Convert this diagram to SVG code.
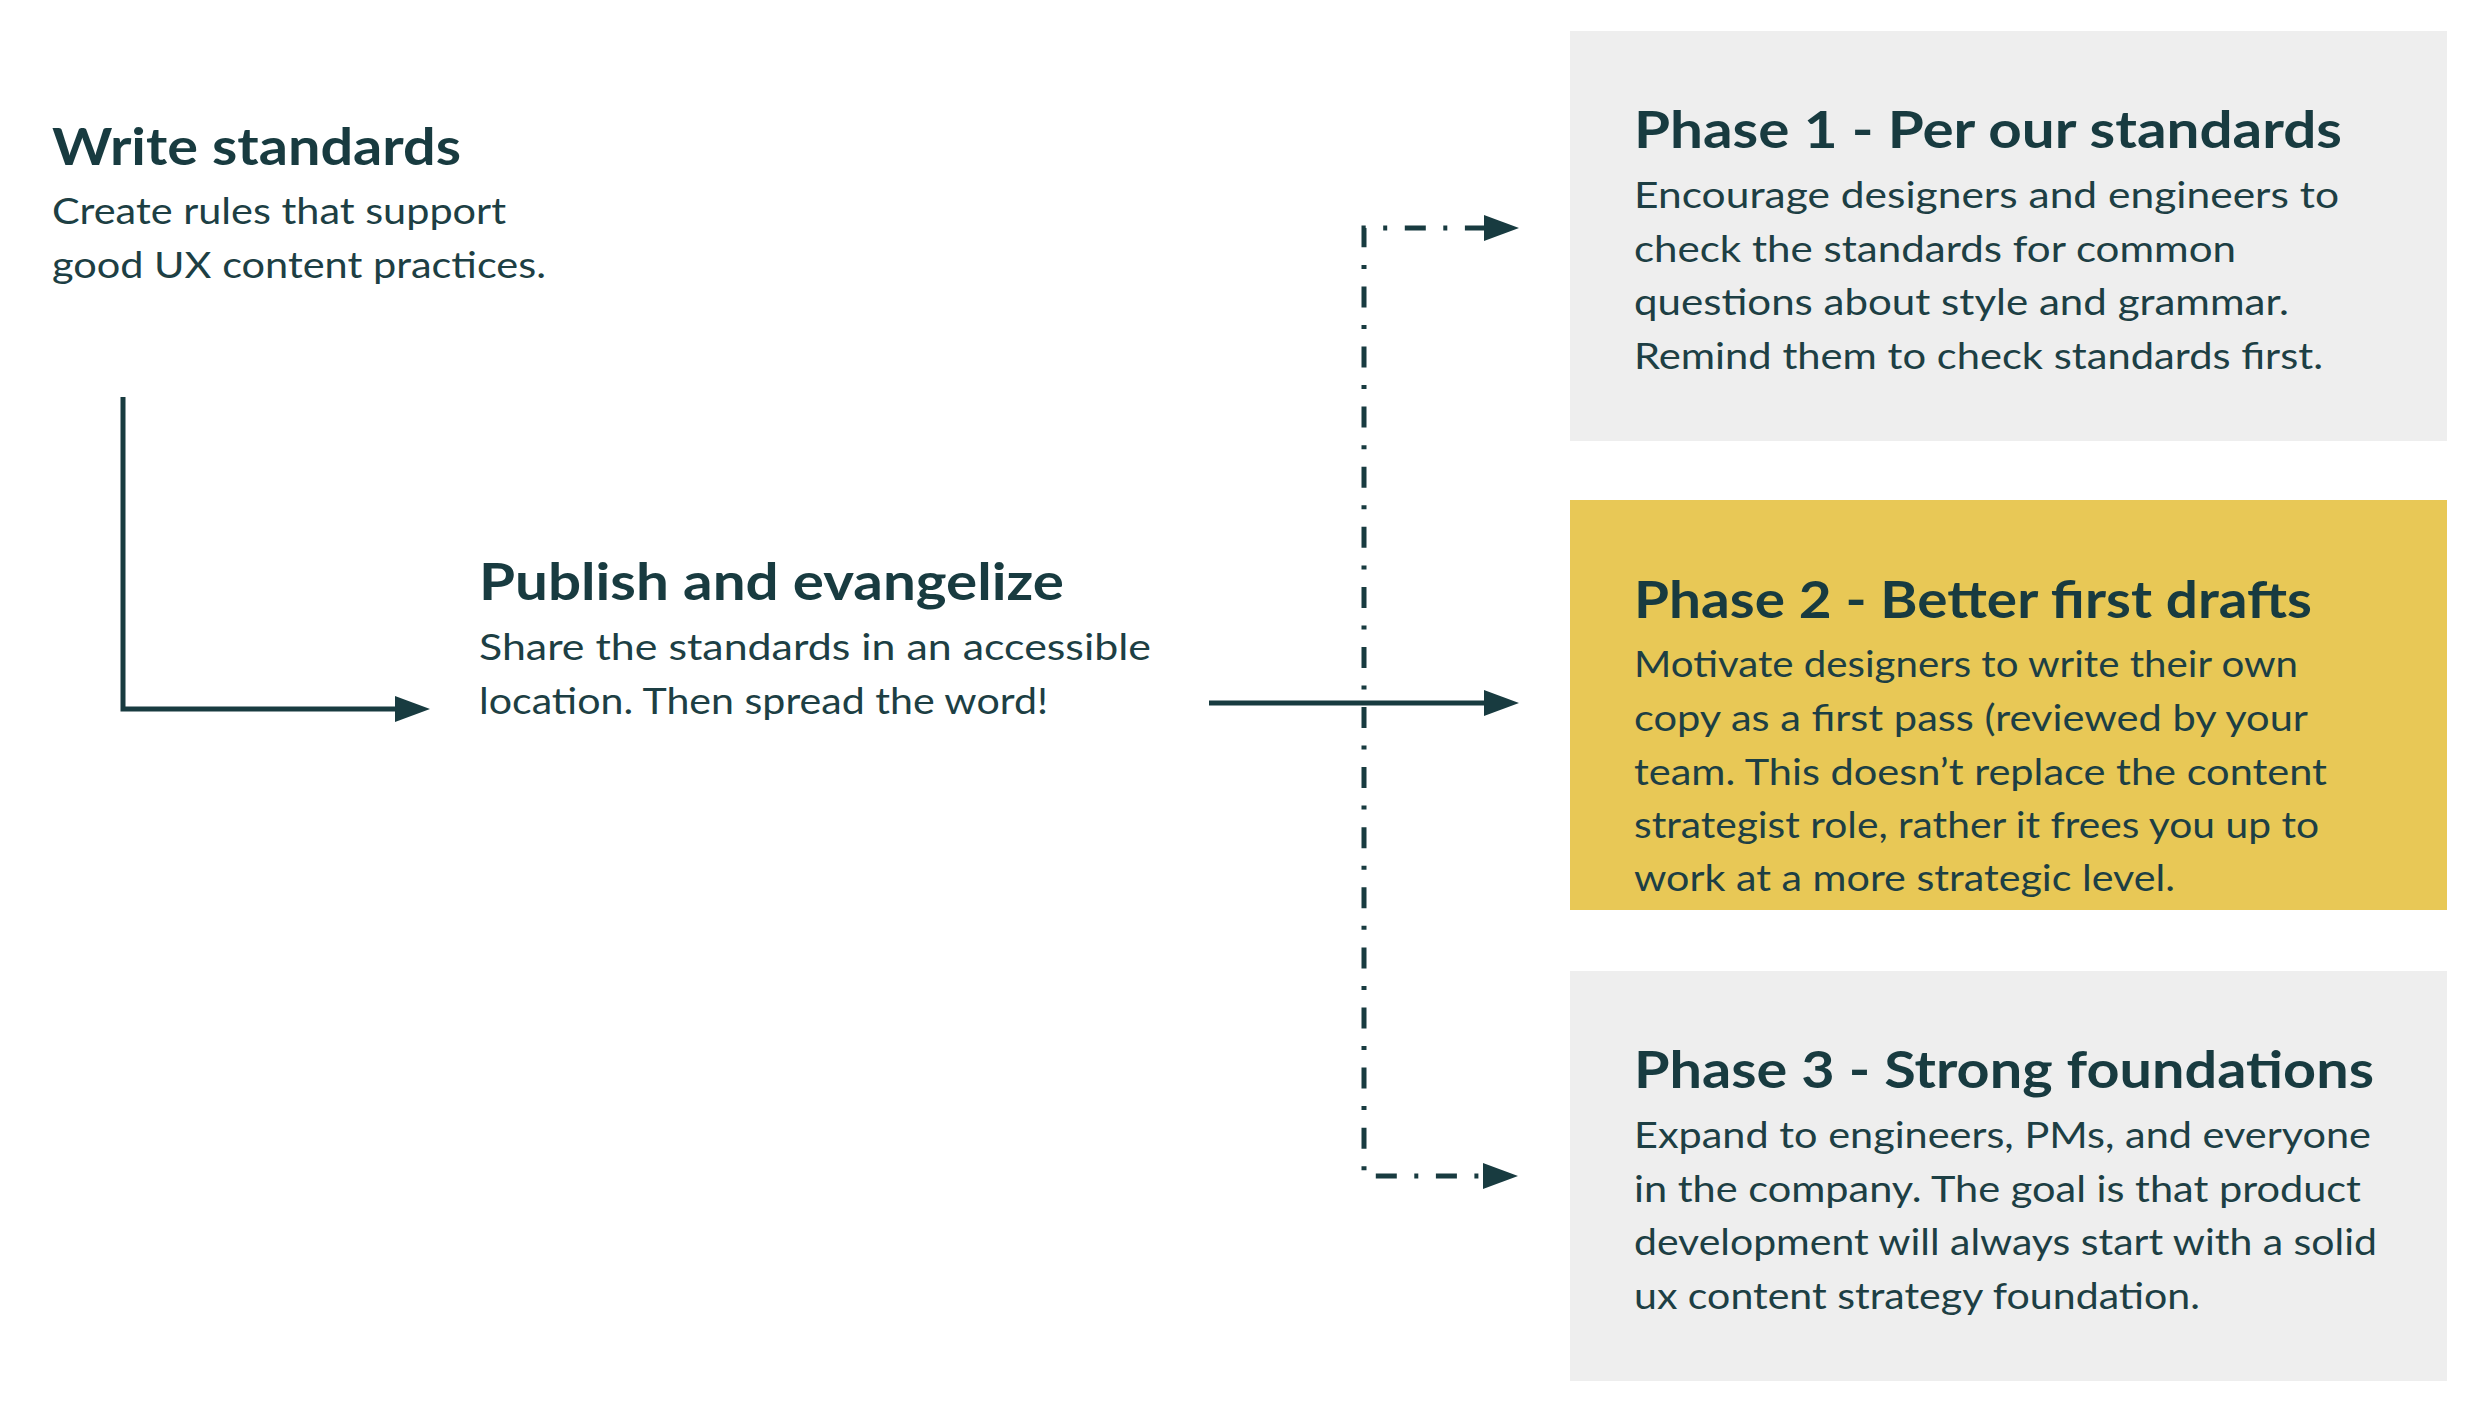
<svg xmlns="http://www.w3.org/2000/svg" width="2484" height="1418" viewBox="0 0 2484 1418">
<style>
  .t { font-family: Lato, "Liberation Sans", sans-serif; font-weight: 700; font-size: 52px; fill: #183b40; }
  .b { font-family: Lato, "Liberation Sans", sans-serif; font-weight: 400; font-size: 36px; fill: #1d3f44; }
  .gray { fill: #eeeeee; }
  .yellow { fill: #e8c856; }
  .solid { fill: none; stroke: #183b40; stroke-width: 5; }
  .dash { fill: none; stroke: #183b40; stroke-width: 5; stroke-dasharray: 21 17.5 4 17.6; }
</style>
<defs>
  <marker id="ah" markerUnits="userSpaceOnUse" markerWidth="36" markerHeight="26" viewBox="0 0 36 26" refX="1" refY="13" orient="auto">
    <path d="M0,0 L35,13 L0,26 Z" fill="#183b40"/>
  </marker>
</defs>
<rect width="2484" height="1418" fill="#ffffff"/>

<g id="write-standards">
  <text class="t" x="52" y="165" textLength="409" lengthAdjust="spacingAndGlyphs">Write standards</text>
  <text class="b" x="52" y="224" textLength="454" lengthAdjust="spacingAndGlyphs">Create rules that support</text>
  <text class="b" x="52" y="278" textLength="494" lengthAdjust="spacingAndGlyphs">good UX content practices.</text>
</g>

<g id="publish">
  <text class="t" x="479" y="600" textLength="585" lengthAdjust="spacingAndGlyphs">Publish and evangelize</text>
  <text class="b" x="479" y="660" textLength="672" lengthAdjust="spacingAndGlyphs">Share the standards in an accessible</text>
  <text class="b" x="479" y="714" textLength="569" lengthAdjust="spacingAndGlyphs">location. Then spread the word!</text>
</g>

<g id="phase1">
  <rect class="gray" x="1570" y="31" width="877" height="410"/>
  <text class="t" x="1634" y="148" textLength="708" lengthAdjust="spacingAndGlyphs">Phase 1 - Per our standards</text>
  <text class="b" x="1634" y="208" textLength="705" lengthAdjust="spacingAndGlyphs">Encourage designers and engineers to</text>
  <text class="b" x="1634" y="262" textLength="602" lengthAdjust="spacingAndGlyphs">check the standards for common</text>
  <text class="b" x="1634" y="315" textLength="655" lengthAdjust="spacingAndGlyphs">questions about style and grammar.</text>
  <text class="b" x="1634" y="369" textLength="689" lengthAdjust="spacingAndGlyphs">Remind them to check standards first.</text>
</g>

<g id="phase2">
  <rect class="yellow" x="1570" y="500" width="877" height="410"/>
  <text class="t" x="1634" y="618" textLength="678" lengthAdjust="spacingAndGlyphs">Phase 2 - Better first drafts</text>
  <text class="b" x="1634" y="677" textLength="664" lengthAdjust="spacingAndGlyphs">Motivate designers to write their own</text>
  <text class="b" x="1634" y="731" textLength="674" lengthAdjust="spacingAndGlyphs">copy as a first pass (reviewed by your</text>
  <text class="b" x="1634" y="785" textLength="693" lengthAdjust="spacingAndGlyphs">team. This doesn’t replace the content</text>
  <text class="b" x="1634" y="838" textLength="685" lengthAdjust="spacingAndGlyphs">strategist role, rather it frees you up to</text>
  <text class="b" x="1634" y="891" textLength="541" lengthAdjust="spacingAndGlyphs">work at a more strategic level.</text>
</g>

<g id="phase3">
  <rect class="gray" x="1570" y="971" width="877" height="410"/>
  <text class="t" x="1634" y="1088" textLength="740" lengthAdjust="spacingAndGlyphs">Phase 3 - Strong foundations</text>
  <text class="b" x="1634" y="1148" textLength="737" lengthAdjust="spacingAndGlyphs">Expand to engineers, PMs, and everyone</text>
  <text class="b" x="1634" y="1202" textLength="727" lengthAdjust="spacingAndGlyphs">in the company. The goal is that product</text>
  <text class="b" x="1634" y="1255" textLength="743" lengthAdjust="spacingAndGlyphs">development will always start with a solid</text>
  <text class="b" x="1634" y="1309" textLength="566" lengthAdjust="spacingAndGlyphs">ux content strategy foundation.</text>
</g>

<g id="connectors">
  <path class="solid" d="M123,397 V709 H396" marker-end="url(#ah)"/>
  <path class="solid" d="M1209,703 H1485" marker-end="url(#ah)"/>
  <path class="dash" style="stroke-dashoffset:25.1" d="M1364,703 V228 H1485" marker-end="url(#ah)"/>
  <path class="dash" style="stroke-dashoffset:56.1" d="M1364,703 V1176 H1484" marker-end="url(#ah)"/>
</g>
</svg>
